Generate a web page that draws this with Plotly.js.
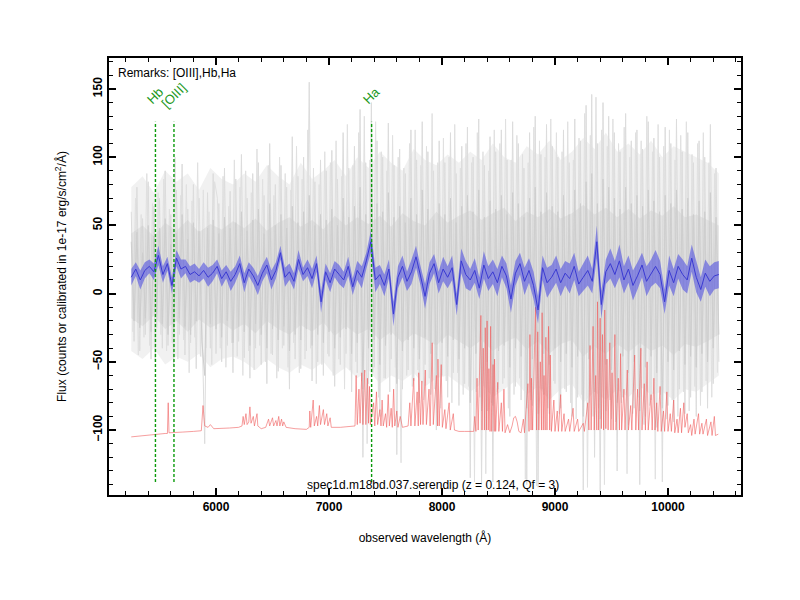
<!DOCTYPE html>
<html>
<head>
<meta charset="utf-8">
<script src="https://cdn.plot.ly/plotly-3.0.1.min.js"></script>
<style>html,body{margin:0;padding:0;background:#fff}#chart{width:800px;height:600px}</style>
</head>
<body>
<div id="chart"></div>
<script>
// ---------- data ----------
// raw (noisy) spectra, sampled every 25 A from 5250 A (grayA, grayB) and from 5262.5 A (grayC)
const grayStart = 5250, grayStep = 25, grayCStart = 5262.5;
const grayA = [
  60,-35,78,-42,55,-30,82,-48,64,-25,
  70,-40,90,-38,58,-52,76,-30,95,-45,
  62,-36,80,-55,70,-28,-110,74,-40,88,
  -44,66,-50,92,-38,75,-58,84,-35,102,
  -47,70,-62,88,-40,96,-52,72,-66,110,
  -45,80,-57,94,-38,78,-70,115,-48,86,
  -55,100,-42,155,-64,82,-50,98,-60,90,
  -46,105,-68,84,-52,118,-44,92,-72,108,
  -58,135,-120,96,-66,140,-54,112,-90,100,
  -62,125,-48,94,-118,106,-70,88,-56,120,
  -64,98,-80,126,-52,104,-74,90,-100,112,
  -60,96,-76,118,-58,88,-82,108,-66,122,
  -135,100,-72,128,-140,94,-86,115,-138,104,
  -70,120,-62,98,-90,126,-68,110,-78,92,
  -140,118,-82,130,-142,102,-74,124,-88,108,
  -66,100,-84,120,-72,96,-90,128,-76,112,
  -144,138,-80,146,-120,110,-145,140,-86,130,
  -92,118,-130,104,-76,132,-96,112,-84,120,
  -140,106,-90,126,-78,114,-98,100,-138,122,
  -82,110,-94,128,-70,104,-88,118,-76,96,
  -90,112,-72,100,-84,124,-66,92,-50
];
const grayC = [
  -28,70,-45,58,-32,88,-38,66,-50,74,
  -30,84,-42,62,-36,100,-48,72,-34,80,
  -58,68,-32,96,-46,76,-40,60,-52,82,
  70,-40,86,-54,64,-36,98,-46,78,-60,
  90,-42,74,-56,106,-38,84,-50,94,-44,
  72,-62,100,-40,88,-54,76,-36,108,-58,
  84,-48,120,-40,92,-66,80,-52,104,-44,
  96,-60,112,-48,86,-70,124,-56,94,-50,
  118,-64,130,-110,98,-58,126,-76,104,-62,
  90,-72,116,-54,100,-124,92,-60,110,-68,
  120,-56,94,-78,108,-62,132,-70,96,-84,
  114,-64,100,-80,124,-58,92,-74,110,-68,
  96,-138,118,-76,104,-132,90,-80,120,-72,
  110,-66,128,-84,98,-74,116,-62,102,-136,
  96,-78,122,-141,112,-70,100,-84,128,-64,
  118,-88,104,-70,126,-80,98,-92,114,-74,
  132,-142,116,-90,144,-84,120,-140,108,-78,
  128,-94,110,-80,122,-132,100,-88,118,-76,
  112,-96,130,-82,104,-136,124,-74,108,-92,
  120,-78,98,-90,116,-72,126,-86,102,-68,
  110,-82,118,-64,96,-76,88,-58
];
const grayB = [
  38,-20,45,-25,30,-18,50,-28,42,-15,
  48,-22,55,-30,36,-26,44,-18,58,-24,
  40,-30,52,-20,46,-35,-60,48,-22,54,
  -26,44,-32,56,-20,48,-36,52,-24,60,
  -28,46,-38,54,-22,62,-30,44,-40,66,
  -26,50,-34,58,-24,48,-42,64,-30,52,
  -34,60,-26,72,-38,50,-30,58,-36,54,
  -28,62,-40,50,-32,70,-26,56,-44,64,
  -36,78,-70,58,-40,84,-34,66,-52,60,
  -38,74,-30,56,-66,64,-42,52,-34,70,
  -40,58,-48,76,-32,62,-44,54,-60,66,
  -36,58,-46,70,-34,52,-48,64,-40,72,
  -80,60,-44,76,-86,56,-50,68,-82,62,
  -42,72,-38,58,-54,74,-40,66,-46,56,
  -84,70,-48,78,-88,60,-44,74,-52,64,
  -40,60,-50,72,-44,58,-54,76,-46,66,
  -90,82,-48,88,-72,66,-92,84,-52,78,
  -56,70,-80,62,-46,78,-58,66,-50,72,
  -86,64,-54,76,-46,68,-58,60,-84,72,
  -50,66,-56,76,-42,62,-52,70,-46,58,
  -54,68,-44,60,-50,74,-40,56,-30
];
// envelopes of the overlapping noisy spectra, every 100 A from 5250 A
const envStart = 5250, envStep = 100;
const grayOuterHi = [
  78,86,74,90,82,88,76,92,84,80,
  88,82,94,86,80,96,84,90,98,86,
  100,92,104,96,90,106,98,94,102,96,
  104,98,110,100,96,108,102,112,98,104,
  114,106,118,104,110,102,112,100,108,104,
  100,96,88
];
const grayOuterLo = [
  -42,-48,-40,-52,-46,-50,-44,-54,-48,-46,
  -50,-56,-48,-54,-58,-52,-56,-50,-60,-54,
  -62,-56,-66,-60,-64,-58,-68,-62,-60,-66,
  -72,-66,-76,-70,-64,-74,-68,-78,-70,-66,
  -80,-72,-78,-70,-76,-68,-74,-72,-78,-70,
  -72,-66,-60
];
const grayCoreHi = [
  44,50,42,52,46,54,45,51,47,53,
  48,55,46,52,56,49,54,47,57,50,
  56,51,57,49,59,53,50,60,52,57,
  61,54,59,63,53,60,56,62,55,59,
  65,58,63,56,62,55,61,57,64,56,
  58,54,50
];
const grayCoreLo = [
  -18,-24,-16,-26,-20,-28,-19,-25,-21,-27,
  -22,-29,-20,-26,-30,-23,-28,-21,-31,-24,
  -30,-26,-34,-28,-36,-29,-33,-38,-30,-35,
  -40,-34,-42,-36,-32,-41,-35,-44,-37,-34,
  -46,-39,-44,-37,-43,-36,-42,-38,-45,-37,
  -39,-35,-30
];

// smoothed spectrum and its 1-sigma error, every 40 A from 5250 A
const blueStart = 5250, blueStep = 40;
const blueFlux = [
  12,18,10,17,20,16,28,14,22,6,
  26,18,20,14,16,13,17,12,15,20,
  11,16,9,14,22,8,18,13,6,15,
  21,10,17,30,12,16,9,25,14,19,
  11,22,-6,16,8,18,14,10,20,5,
  17,12,24,38,10,14,6,18,-15,12,
  20,9,16,27,13,-2,15,22,8,18,
  12,19,-8,24,14,10,17,4,21,11,
  16,8,20,13,-4,15,22,9,17,6,
  -12,19,8,12,18,8,15,11,20,7,
  12,17,9,38,-8,16,22,14,24,10,
  18,6,13,21,9,15,20,14,-6,17,
  8,20,14,10,26,12,3,15,9,13,
  14
];
const blueErr = [
  6,5,7,6,5,6,7,6,5,6,
  6,7,5,6,6,5,6,7,6,5,
  6,5,7,6,6,7,5,6,7,6,
  6,7,6,5,7,6,6,7,5,6,
  7,6,8,6,7,6,7,6,7,6,
  7,8,6,8,9,7,8,7,9,8,
  8,7,9,8,7,9,8,7,8,9,
  8,9,8,9,10,8,9,8,10,9,
  9,10,8,9,10,9,8,10,9,10,
  10,9,11,9,10,10,9,11,10,9,
  10,11,9,12,10,9,11,10,12,10,
  10,11,10,9,11,10,12,10,9,11,
  10,9,11,10,10,11,9,10,11,10,
  10
];

// sky spectrum (offset), irregular sampling
const skyWave = [
  5250,5300,5350,5400,5450,5500,5550,5570,5577,5584,5620,5700,5800,5870,5885,5893,5900,5930,5950,5980,
  6050,6120,6200,6230,6240,6250,6265,6275,6290,6300,6310,6330,6340,6363,6370,6400,6440,6465,6475,6500,
  6510,6530,6540,6555,6565,6580,6590,6600,6620,6700,6800,6825,6830,6838,6860,6870,6890,6900,6915,6925,
  6950,6960,6980,6990,7010,7020,7100,7200,7230,7240,7250,7265,7275,7290,7300,7316,7326,7340,7350,7358,
  7366,7395,7405,7420,7430,7450,7460,7470,7480,7500,7510,7524,7534,7550,7560,7572,7582,7600,7610,7630,
  7650,7700,7715,7725,7750,7760,7780,7790,7794,7810,7822,7832,7852,7862,7885,7895,7913,7923,7950,7960,
  7964,7975,7993,8003,8025,8035,8063,8073,8100,8110,8150,8200,8280,8290,8300,8310,8320,8344,8354,8365,
  8375,8383,8393,8399,8409,8415,8425,8430,8440,8452,8462,8465,8475,8493,8503,8525,8535,8548,8558,8580,
  8600,8620,8635,8650,8665,8680,8700,8720,8730,8760,8770,8778,8788,8792,8802,8827,8837,8847,8857,8870,
  8880,8886,8896,8903,8913,8919,8929,8943,8953,8958,8968,8990,9000,9020,9030,9050,9060,9080,9090,9120,
  9130,9160,9170,9200,9210,9250,9260,9290,9300,9310,9320,9337,9347,9360,9370,9376,9386,9400,9410,9420,
  9430,9440,9450,9460,9470,9485,9495,9505,9515,9530,9540,9560,9570,9580,9590,9610,9620,9640,9650,9670,
  9680,9705,9715,9730,9740,9760,9770,9790,9800,9815,9825,9850,9860,9875,9885,9900,9910,9930,9940,9960,
  9970,9990,10000,10020,10030,10050,10060,10080,10090,10110,10120,10140,10150,10170,10180,10200,10210,10230,10240,10270,
  10280,10300,10310,10340,10350,10380,10390,10410,10420,10445
];
const skyFlux = [
  -105,-104.5,-104,-104,-103.5,-103,-102.5,-102.5,-80,-102,-102,-101.5,-101,-100.5,-82,-88,-97,-98,-96,-99,
  -99,-98.5,-98,-97,-90,-96,-88,-96,-94,-83,-95,-90,-97,-88,-97,-99,-98,-92,-97,-91,
  -97,-93,-97,-90,-97,-92,-97,-94,-98,-99,-99.5,-98,-86,-98,-78,-97,-90,-97,-82,-96,
  -85,-96,-88,-97,-91,-98,-98,-97.5,-97,-60,-96,-70,-95,-58,-96,-56,-96,-62,-95,-68,
  -96,-80,-97,-72,-96,-85,-97,-78,-97,-88,-98,-74,-97,-84,-98,-70,-97,-86,-98,-90,
  -98,-97,-80,-97,-62,-97,-72,-97,-58,-96,-64,-96,-56,-96,-70,-97,-36,-96,-60,-97,
  -48,-97,-52,-98,-85,-99,-80,-100,-88,-100,-101,-101,-101,-90,-101,-62,-100,-16,-100,-40,
  -100,-25,-100,-20,-100,-55,-101,-24,-101,-52,-101,-48,-101,-65,-101,-80,-101,-70,-102,-96,
  -102,-97,-91,-90,-94,-101,-102,-92,-102,-66,-101,-30,-100,-62,-100,-10,-100,-28,-100,-50,
  -100,-14,-100,-60,-100,-32,-100,-24,-100,-45,-101,-78,-101,-86,-101,-74,-101,-88,-101,-92,
  -101,-84,-101,-92,-101,-95,-101,-80,-100,-38,-100,-24,-100,-60,-100,-6,-100,-18,-99,-30,
  -100,-12,-99,-48,-100,-36,-100,-58,-100,-30,-100,-62,-100,-44,-100,-70,-100,-56,-100,-82,
  -100,-45,-100,-70,-100,-40,-100,-66,-100,-50,-100,-74,-100,-62,-100,-80,-101,-68,-101,-86,
  -101,-72,-101,-88,-101,-78,-102,-92,-102,-84,-102,-80,-98,-88,-102,-96,-104,-92,-103,-88,
  -103,-95,-103,-92,-104,-94,-104,-90,-104,-103
];

// identified emission lines (observed wavelengths, z = 0.124)
const lineNames = ['Hb', '[OIII]', 'Ha'];
const lineWaves = [5464, 5628, 7377];

const remarksText = 'Remarks: [OIII],Hb,Ha';
const specText = 'spec1d.m18bd.037.serendip (z = 0.124, Qf = 3)';

// ---------- build ----------
const grayWave = grayA.map((_, i) => grayStart + grayStep * i);
const grayCWave = grayC.map((_, i) => grayCStart + grayStep * i);
const envWave = grayOuterHi.map((_, i) => envStart + envStep * i);
const blueWave = blueFlux.map((_, i) => blueStart + blueStep * i);
const blueLo = blueFlux.map((v, i) => v - blueErr[i]);
const blueHi = blueFlux.map((v, i) => v + blueErr[i]);

const none = {width: 0, color: 'rgba(0,0,0,0)'};
const traces = [
  {x: envWave, y: grayOuterLo, type: 'scatter', mode: 'lines', line: none},
  {x: envWave, y: grayOuterHi, type: 'scatter', mode: 'lines', fill: 'tonexty', fillcolor: 'rgba(228,228,228,0.5)', line: none},
  {x: grayWave, y: grayA, type: 'scatter', mode: 'lines', line: {color: '#dcdcdc', width: 1}},
  {x: grayCWave, y: grayC, type: 'scatter', mode: 'lines', line: {color: '#e0e0e0', width: 1}},
  {x: envWave, y: grayCoreLo, type: 'scatter', mode: 'lines', line: none},
  {x: envWave, y: grayCoreHi, type: 'scatter', mode: 'lines', fill: 'tonexty', fillcolor: 'rgba(195,195,195,0.3)', line: none},
  {x: grayWave, y: grayB, type: 'scatter', mode: 'lines', line: {color: '#cecece', width: 1}},
  {x: skyWave, y: skyFlux, type: 'scatter', mode: 'lines', line: {color: 'rgba(240,95,95,0.6)', width: 1}},
  {x: blueWave, y: blueLo, type: 'scatter', mode: 'lines', line: none},
  {x: blueWave, y: blueHi, type: 'scatter', mode: 'lines', fill: 'tonexty', fillcolor: 'rgba(70,70,225,0.55)', line: none},
  {x: blueWave, y: blueFlux, type: 'scatter', mode: 'lines', line: {color: '#3a3ad2', width: 1}}
];

const lineTop = 126, lineBottom = -138, labelY = 145;
const shapes = lineWaves.map(w => ({
  type: 'line', xref: 'x', yref: 'y', x0: w, x1: w, y0: lineBottom, y1: lineTop,
  line: {color: '#0a9a0a', width: 1.4, dash: '3px,2px'}, layer: 'above'
}));
const annotations = lineNames.map((n, i) => ({
  x: lineWaves[i], y: labelY, xref: 'x', yref: 'y', text: n, showarrow: false,
  textangle: -45, xanchor: 'center', yanchor: 'middle',
  font: {family: 'Liberation Sans, Arial, sans-serif', size: 13, color: '#1f9a1f'}
}));
annotations.push({
  xref: 'paper', yref: 'paper', x: 0.011, y: 0.966, xanchor: 'left', yanchor: 'middle',
  text: remarksText, showarrow: false,
  font: {family: 'Liberation Sans, Arial, sans-serif', size: 12, color: '#000'}
});
annotations.push({
  xref: 'paper', yref: 'paper', x: 0.513, y: 0.024, xanchor: 'center', yanchor: 'middle',
  text: specText, showarrow: false,
  font: {family: 'Liberation Sans, Arial, sans-serif', size: 12, color: '#000'}
});

const tickFont = {family: 'Liberation Sans, Arial, sans-serif', size: 12, color: '#000', weight: 'bold'};
const titleFont = {family: 'Liberation Sans, Arial, sans-serif', size: 12, color: '#000'};

const layout = {
  width: 800, height: 600,
  paper_bgcolor: '#fff', plot_bgcolor: '#fff',
  margin: {l: 109, r: 59, t: 58, b: 105},
  showlegend: false,
  xaxis: {
    range: [5053, 10646], showgrid: false, zeroline: false,
    showline: true, linecolor: '#000', linewidth: 2, mirror: 'ticks',
    ticks: 'inside', ticklen: 7, tickwidth: 2, tickcolor: '#000',
    tick0: 6000, dtick: 1000, tickformat: 'd', tickfont: tickFont,
    minor: {ticks: 'inside', ticklen: 4, tickwidth: 1, tickcolor: '#000', dtick: 200, showgrid: false},
    title: {text: 'observed wavelength (Å)', font: titleFont, standoff: 20}
  },
  yaxis: {
    range: [-147.6, 172.7], showgrid: false, zeroline: false,
    showline: true, linecolor: '#000', linewidth: 2, mirror: 'ticks',
    ticks: 'inside', ticklen: 7, tickwidth: 2, tickcolor: '#000',
    tick0: 0, dtick: 50, tickangle: -90, tickfont: tickFont,
    minor: {ticks: 'inside', ticklen: 4, tickwidth: 1, tickcolor: '#000', dtick: 10, showgrid: false},
    title: {text: 'Flux (counts or calibrated in 1e-17 erg/s/cm<sup>2</sup>/Å)', font: titleFont, standoff: 22}
  },
  shapes: shapes,
  annotations: annotations
};

Plotly.newPlot('chart', traces, layout, {staticPlot: true, displayModeBar: false});
</script>
</body>
</html>
